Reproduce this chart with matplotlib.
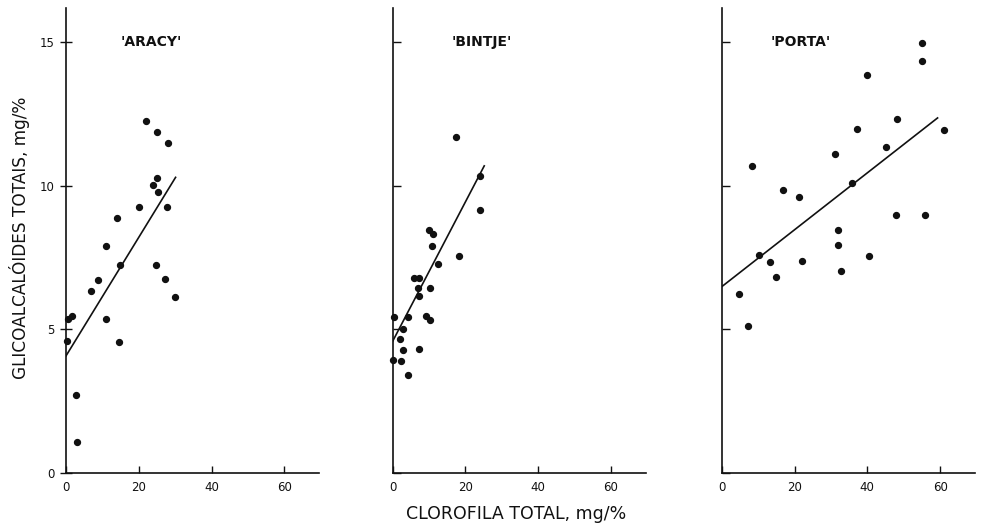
import matplotlib
matplotlib.use("Agg")
import matplotlib.pyplot as plt

plt.rcParams["font.family"] = ["DejaVu Sans"]

# 'ARACY'
aracy_x = [22.0, 24.9, 27.9, 25.1, 23.8, 25.3, 20.1, 27.8, 13.9, 11.0, 14.7, 24.6,
           8.9, 27.1, 6.8, 29.9, 1.6, 0.5, 11.0, 0.4, 14.6, 2.8, 2.9]
aracy_y = [12.27, 11.89, 11.49, 10.28, 10.02, 9.78, 9.28, 9.25, 8.89, 7.91, 7.25, 7.25,
           6.74, 6.76, 6.35, 6.14, 5.48, 5.37, 5.38, 4.61, 4.58, 2.73, 1.09]
aracy_line_x = [0, 30.1]
aracy_line_y = [4.08, 10.3]

# 'BINTJE'
bintje_x = [24.0, 24.0, 10.0, 11.2, 10.9, 18.3, 12.5, 5.8, 7.2, 7.0, 10.2, 7.3,
            9.2, 10.3, 0.5, 4.2, 3.0, 2.1, 3.0, 7.2, 0.2, 2.2, 4.2, 17.4]
bintje_y = [10.33, 9.18, 8.45, 8.32, 7.92, 7.55, 7.28, 6.80, 6.80, 6.43, 6.43, 6.17,
            5.48, 5.33, 5.42, 5.42, 5.00, 4.67, 4.30, 4.32, 3.95, 3.90, 3.42, 11.72]
bintje_line_x = [0, 25.2]
bintje_line_y = [4.58, 10.7]

# 'PORTA'
porta_x = [55.0, 55.0, 40.0, 48.1, 37.2, 61.2, 45.0, 31.0, 8.4, 35.7, 16.9, 21.2,
           47.8, 55.8, 32.0, 32.0, 10.2, 40.6, 13.3, 22.1, 32.8, 15.0, 4.8, 7.3]
porta_y = [14.97, 14.35, 13.85, 12.32, 11.97, 11.95, 11.35, 11.10, 10.71, 10.09, 9.86, 9.62,
           8.99, 8.99, 8.48, 7.95, 7.60, 7.57, 7.36, 7.38, 7.05, 6.84, 6.23, 5.11]
porta_line_x = [0, 59.3]
porta_line_y = [6.49, 12.37]

names = ["'ARACY'", "'BINTJE'", "'PORTA'"]
name_x = [23.5, 24.4, 21.8]
x_ticks = [0, 20, 40, 60]
y_ticks = [0, 5, 10, 15]

W, H = 983, 526
lefts = [66, 392.5, 721.7]
AX_W = 253
AX_B = 53
AX_H = 465
INK = "#111111"

fig = plt.figure(figsize=(W / 100, H / 100), dpi=100)
fig.patch.set_facecolor("white")

panels = [
    (aracy_x, aracy_y, aracy_line_x, aracy_line_y),
    (bintje_x, bintje_y, bintje_line_x, bintje_line_y),
    (porta_x, porta_y, porta_line_x, porta_line_y),
]

for i, (xs, ys, lx, ly) in enumerate(panels):
    ax = fig.add_axes([lefts[i] / W, AX_B / H, AX_W / W, AX_H / H])
    ax.scatter(xs, ys, s=18, color=INK, zorder=3, clip_on=False)
    ax.plot(lx, ly, color=INK, linewidth=1.2, zorder=2)
    ax.set_xlim(0, 69.5)
    ax.set_ylim(0, 16.2)
    for s in ("top", "right"):
        ax.spines[s].set_visible(False)
    for s in ("left", "bottom"):
        ax.spines[s].set_linewidth(1.2)
        ax.spines[s].set_color(INK)
    ax.set_xticks(x_ticks)
    ax.set_yticks(y_ticks)
    ax.tick_params(axis="x", direction="in", length=5, width=1, pad=6,
                   labelsize=8.5, colors=INK)
    if i == 0:
        ax.tick_params(axis="y", direction="inout", length=8, width=1, pad=4,
                       labelsize=8.5, colors=INK)
    else:
        ax.tick_params(axis="y", direction="in", length=6, width=1,
                       labelleft=False, colors=INK)
    ax.text(name_x[i], 15, names[i], ha="center", va="center", fontsize=10,
            fontweight="bold", color=INK)

fig.text(20 / W, 1 - 238 / H, "GLICOALCALÓIDES TOTAIS, mg/%", rotation=90,
         ha="center", va="center", fontsize=12.2, color=INK)
fig.text(516 / W, 1 - 514 / H, "CLOROFILA TOTAL, mg/%", ha="center", va="center",
         fontsize=12.5, color=INK)

fig.savefig("out.png", dpi=100, facecolor="white")
